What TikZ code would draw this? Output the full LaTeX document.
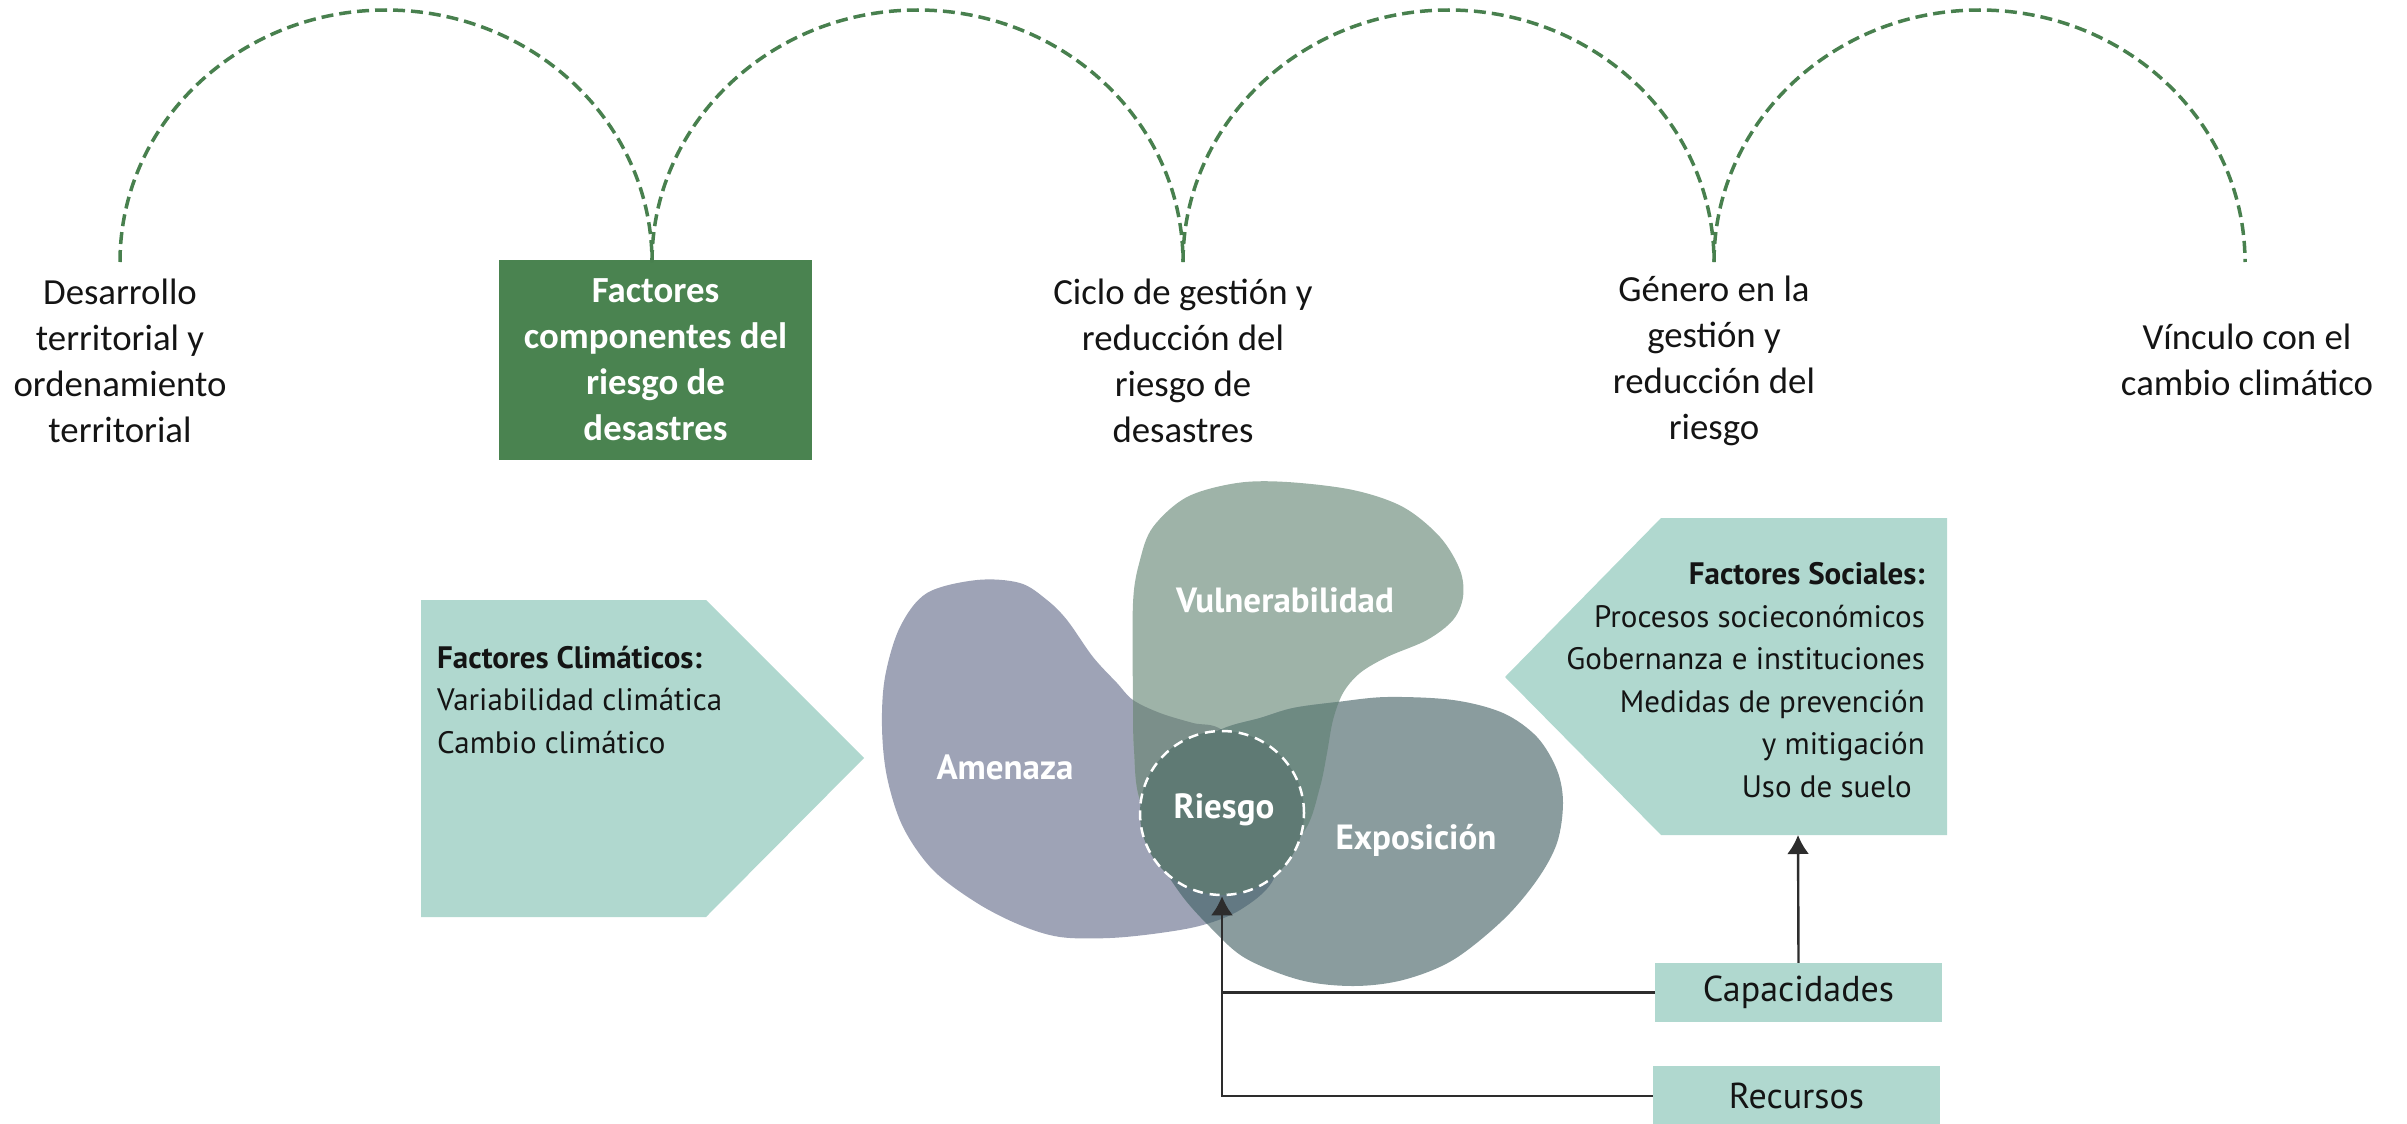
\documentclass[tikz,border=0pt]{standalone}
\usepackage{fontspec}
\setmainfont{Carlito}
\newfontfamily\myr{PT Sans}
\usetikzlibrary{arrows.meta}
\definecolor{dkgreen}{RGB}{74,131,80}
\definecolor{arcgreen}{RGB}{72,128,78}
\definecolor{lteal}{RGB}{176,216,207}
\definecolor{cA}{RGB}{158,163,182}
\definecolor{cV}{RGB}{158,179,168}
\definecolor{cE}{RGB}{138,156,158}
\definecolor{cAV}{RGB}{123,143,138}
\definecolor{cVE}{RGB}{110,138,130}
\definecolor{cAE}{RGB}{99,121,131}
\definecolor{cAVE}{RGB}{95,122,116}
\definecolor{cR}{RGB}{95,122,116}
\definecolor{txt}{RGB}{20,20,20}
\definecolor{lnc}{RGB}{45,45,45}
\tikzset{
  toplbl/.style={font=\fontsize{36.8}{46}\selectfont, align=center, text=txt, inner sep=0pt},
  arcline/.style={draw=arcgreen, line width=3.5pt, dash pattern=on 12pt off 6pt},
  penta/.style={fill=lteal},
  ptxt/.style={font=\myr\fontsize{31}{42.5}\selectfont, text=txt, inner sep=0pt},
  smallbox/.style={fill=lteal, minimum width=287pt, minimum height=59pt, inner sep=0pt,
     font=\myr\fontsize{36}{40}\selectfont, text=txt},
  bloblbl/.style={font=\myr\bfseries\fontsize{35}{40}\selectfont, text=white, inner sep=0pt},
  conn/.style={draw=lnc, line width=2.4pt},
  tip/.style={-{Latex[length=19pt,width=22pt]}}
}
\def\pathA{plot[smooth cycle, tension=0.55] coordinates {(977,580) (1020,583) (1047,600) (1067,620) (1093,657) (1117,683) (1133,700) (1160,713) (1193,723) (1222,730) (1262,772) (1284,835) (1272,882) (1240,910) (1203,925) (1160,933) (1110,938) (1060,937) (1020,925) (977,903) (933,870) (903,827) (887,777) (882,727) (885,677) (900,627) (927,593)}}
\def\pathV{plot[smooth cycle, tension=0.55] coordinates {(1133,703) (1133,603) (1140,560) (1153,527) (1187,497) (1237,483) (1287,482) (1353,490) (1403,507) (1440,537) (1460,570) (1463,597) (1453,620) (1427,640) (1387,657) (1360,673) (1343,693) (1333,720) (1327,753) (1320,787) (1305,830) (1270,860) (1220,865) (1170,850) (1140,800) (1134,750)}}
\def\pathE{plot[smooth cycle, tension=0.55] coordinates {(1222,729) (1260,718) (1293,708) (1337,702) (1387,697) (1453,700) (1503,713) (1537,737) (1557,770) (1563,803) (1557,843) (1537,880) (1503,920) (1453,960) (1403,980) (1353,986) (1300,980) (1245,958) (1210,927) (1180,893) (1155,850) (1150,800) (1178,755)}}
\begin{document}
\begin{tikzpicture}[x=1pt,y=-1pt]
\useasboundingbox (0,0) rectangle (2407,1124);
% top row
\node[toplbl] (t1) at (120,361) {Desarrollo\\territorial y\\ordenamiento\\territorial};
\node[toplbl, fill=dkgreen, text=white, font=\bfseries\fontsize{36.8}{46}\selectfont,
      minimum width=313pt, minimum height=200pt] (t2) at (655.5,360) {Factores\\componentes del\\riesgo de\\desastres};
\node[toplbl] (t3) at (1183,361) {Ciclo de gestión y\\reducción del\\riesgo de\\desastres};
\node[toplbl] (t4) at (1714,361) {Género en la\\gestión y\\reducción del\\riesgo};
\node[toplbl] (t5) at (2247,360) {Vínculo con el\\cambio climático};
\coordinate (a0) at (120,262);
\coordinate (a1) at (652,262);
\coordinate (a2) at (1183,262);
\coordinate (a3) at (1714,262);
\coordinate (a4) at (2245,262);
\draw[arcline] (a0) arc[start angle=180, end angle=360, x radius=266, y radius=252];
\draw[arcline] (a1) arc[start angle=180, end angle=360, x radius=265.5, y radius=252];
\draw[arcline] (a2) arc[start angle=180, end angle=360, x radius=265.5, y radius=252];
\draw[arcline] (a3) arc[start angle=180, end angle=360, x radius=265.5, y radius=252];
% pentagons
\path[penta] (421,600) -- (706,600) -- (864,758) -- (706,917) -- (421,917) -- cycle;
\path[penta] (1947,518) -- (1661,518) -- (1505,677) -- (1661,835) -- (1947,835) -- cycle;
\coordinate (sp) at (1798,835);
\node[ptxt, anchor=west, align=left] (fc) at (437,700) {\textbf{Factores Climáticos:}\\Variabilidad climática\\Cambio climático};
\node[ptxt, anchor=east, align=right] (fs) at (1925,680) {\textbf{Factores Sociales:}\\Procesos socieconómicos\\Gobernanza e instituciones\\Medidas de prevención\hspace*{7pt}\\y mitigación\\Uso de suelo\hspace*{13pt}};
% blobs
\fill[cA] \pathA;
\fill[cV] \pathV;
\fill[cE] \pathE;
\begin{scope}\clip \pathA; \fill[cAV] \pathV; \end{scope}
\begin{scope}\clip \pathV; \fill[cVE] \pathE; \end{scope}
\begin{scope}\clip \pathA; \fill[cAE] \pathE; \end{scope}
\begin{scope}\clip \pathA; \clip \pathV; \fill[cAVE] \pathE; \end{scope}
\node[circle, minimum size=164pt, inner sep=0pt, fill=cR, draw=white, line width=2.5pt,
      dash pattern=on 10pt off 7pt] (riesgo) at (1222,813) {};
\node[bloblbl] (lr) at (1224,810) {Riesgo};
\node[bloblbl] (la) at (1005,767) {Amenaza};
\node[bloblbl] (lv) at (1285,600) {Vulnerabilidad};
\node[bloblbl] (le) at (1416,840) {Exposición};
% boxes and connectors
\node[smallbox] (cap) at (1798.5,992.5) {Capacidades};
\node[smallbox, minimum height=60pt] (rec) at (1796.5,1096) {Recursos};
\draw[conn] (cap.west) -- (cap.west -| riesgo.south);
\draw[conn, tip] (rec.west) -| (riesgo.south);
\draw[conn, tip] (cap.north) -- (sp);
\end{tikzpicture}
\end{document}
